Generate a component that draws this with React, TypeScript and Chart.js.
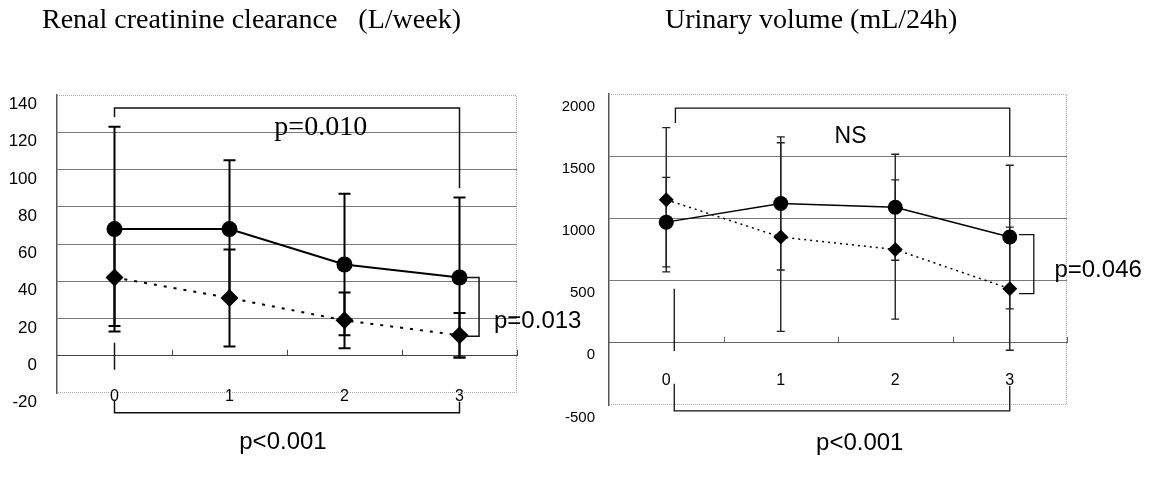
import React, { useEffect, useRef } from 'react';
import { Chart, registerables } from 'chart.js';

Chart.register(...registerables);

// ---------- data ----------
const timePoints = ['0', '1', '2', '3'];

// Renal creatinine clearance (L/week)
const crclSolid = [68, 68, 49, 42];
const crclSolidSD = [55, 37, 38, 43];
const crclDotted = [42, 31, 19, 11];
const crclDottedSD = [26, 26, 15, 12];

// Urinary volume (mL/24h)
const uvSolid = [970, 1120, 1090, 850];
const uvSolidSD = [360, 535, 426, 577];
const uvDotted = [1150, 850, 750, 435];
const uvDottedSD = [580, 758, 560, 495];

// significance brackets, in (category index, axis value)
const crclBrackets = [
  [[0, 128], [0, 133], [3, 133], [3, 90]],
  [[3.01, 42], [3.17, 42], [3.17, 10.5], [3.01, 10.5]],
  [[0, -23.6], [0, -30.6], [3, -30.6], [3, -24.7]],
  [[0, 7], [0, -7.5]],
];
const uvBrackets = [
  [[0.08, 1766], [0.08, 1887], [3, 1887], [3, 1500]],
  [[3.08, 870], [3.21, 870], [3.21, 395], [3.08, 395]],
  [[0.07, -330], [0.07, -548], [3, -548], [3, -347]],
  [[0.07, 435], [0.07, -65]],
];

const crclLabels = [
  { text: 'p=0.010', x: 1.39, y: 118.7, serif: true, size: 28, align: 'left' },
  { text: 'p=0.013', x: 3.3, y: 15, serif: false, size: 24, align: 'left' },
  { text: 'p<0.001', x: 1.465, y: -49.9, serif: false, size: 24, align: 'center' },
];
const uvLabels = [
  { text: 'NS', x: 1.61, y: 1605, serif: false, size: 23, align: 'center' },
  { text: 'p=0.046', x: 3.39, y: 532, serif: false, size: 24, align: 'left' },
  { text: 'p<0.001', x: 1.69, y: -863, serif: false, size: 24, align: 'center' },
];

// ---------- chart specs ----------
const crclSpec = {
  title: 'Renal creatinine clearance   (L/week)',
  titleX: 42,
  yMin: -20, yMax: 140, yStep: 20,
  yWidth: 57, yTickPad: 20, yLabelOffset: 9.5, yFont: 17,
  pad: { top: 95, right: 83, bottom: 88 },
  xPad: 31,
  solid: crclSolid, solidSD: crclSolidSD, dotted: crclDotted, dottedSD: crclDottedSD,
  brackets: crclBrackets, labels: crclLabels,
  lineW: 2, dotDash: [3, 7], circleR: 8, diamondR: 9,
  errW: 2, capHalf: 6, errColor: '#000',
  gridColor: '#7a7a7a', zeroColor: '#444', bracketW: 1.5,
};
const uvSpec = {
  title: 'Urinary volume (mL/24h)',
  titleX: 110,
  yMin: -500, yMax: 2000, yStep: 500,
  yWidth: 54, yTickPad: 14, yLabelOffset: 12.5, yFont: 15,
  pad: { top: 94, right: 88, bottom: 76 },
  xPad: 28,
  solid: uvSolid, solidSD: uvSolidSD, dotted: uvDotted, dottedSD: uvDottedSD,
  brackets: uvBrackets, labels: uvLabels,
  lineW: 1.5, dotDash: [2, 4], circleR: 7.5, diamondR: 7.5,
  errW: 1.4, capHalf: 4, errColor: '#222',
  gridColor: '#7a7a7a', zeroColor: '#666', bracketW: 1.3,
};

function makeOverlay(spec: any) {
  return {
    id: 'overlay',
    beforeDatasetsDraw(chart: any) {
      const ctx = chart.ctx;
      const xs = chart.scales.x;
      const ys = chart.scales.y;
      const groups = [
        [spec.solid, spec.solidSD],
        [spec.dotted, spec.dottedSD],
      ];
      ctx.save();
      ctx.strokeStyle = spec.errColor;
      ctx.lineWidth = spec.errW;
      groups.forEach(([vals, sds]: any) => {
        vals.forEach((v: number, i: number) => {
          const x = xs.getPixelForValue(i);
          const yTop = ys.getPixelForValue(v + sds[i]);
          const yBot = ys.getPixelForValue(v - sds[i]);
          ctx.beginPath();
          ctx.moveTo(x, yTop);
          ctx.lineTo(x, yBot);
          ctx.moveTo(x - spec.capHalf, yTop);
          ctx.lineTo(x + spec.capHalf, yTop);
          ctx.moveTo(x - spec.capHalf, yBot);
          ctx.lineTo(x + spec.capHalf, yBot);
          ctx.stroke();
        });
      });
      ctx.restore();
    },
    afterDraw(chart: any) {
      const ctx = chart.ctx;
      const xs = chart.scales.x;
      const ys = chart.scales.y;
      const a = chart.chartArea;
      ctx.save();
      // dotted frame (top, right, bottom)
      ctx.strokeStyle = '#a8a8a8';
      ctx.lineWidth = 1;
      ctx.setLineDash([1, 1]);
      ctx.beginPath();
      ctx.moveTo(a.left, a.top + 0.5);
      ctx.lineTo(a.right - 0.5, a.top + 0.5);
      ctx.lineTo(a.right - 0.5, a.bottom - 0.5);
      ctx.lineTo(a.left, a.bottom - 0.5);
      ctx.stroke();
      ctx.setLineDash([]);
      // small ticks on the zero axis between categories
      const y0 = ys.getPixelForValue(0);
      ctx.strokeStyle = spec.zeroColor;
      ctx.lineWidth = 1;
      ctx.beginPath();
      for (let i = 0; i < timePoints.length; i++) {
        const x = Math.round(xs.getPixelForValue(i + 0.5)) + 0.5;
        ctx.moveTo(x, y0);
        ctx.lineTo(x, y0 - 6);
      }
      ctx.stroke();
      // brackets
      ctx.strokeStyle = '#111';
      ctx.lineWidth = spec.bracketW;
      spec.brackets.forEach((pts: number[][]) => {
        ctx.beginPath();
        pts.forEach((p, k) => {
          const x = xs.getPixelForValue(p[0]);
          const y = ys.getPixelForValue(p[1]);
          if (k === 0) ctx.moveTo(x, y);
          else ctx.lineTo(x, y);
        });
        ctx.stroke();
      });
      // labels
      ctx.fillStyle = '#000';
      ctx.textBaseline = 'alphabetic';
      spec.labels.forEach((l: any) => {
        ctx.font = `${l.size}px ${l.serif ? '"Liberation Serif"' : '"Liberation Sans"'}`;
        ctx.textAlign = l.align;
        ctx.fillText(l.text, xs.getPixelForValue(l.x), ys.getPixelForValue(l.y));
      });
      // title
      ctx.font = '28px "Liberation Serif"';
      ctx.textAlign = 'left';
      ctx.fillText(spec.title, spec.titleX, 28);
      ctx.restore();
    },
  };
}

function buildConfig(spec: any): any {
  return {
    type: 'line',
    data: {
      labels: timePoints,
      datasets: [
        {
          data: spec.solid,
          borderColor: '#000',
          backgroundColor: '#000',
          borderWidth: spec.lineW,
          pointStyle: 'circle',
          pointRadius: spec.circleR,
          pointBackgroundColor: '#000',
          pointBorderColor: '#000',
          pointBorderWidth: 0,
          tension: 0,
          fill: false,
        },
        {
          data: spec.dotted,
          borderColor: '#000',
          backgroundColor: '#000',
          borderWidth: spec.lineW,
          borderDash: spec.dotDash,
          pointStyle: 'rectRot',
          pointRadius: spec.diamondR,
          pointBackgroundColor: '#000',
          pointBorderColor: '#000',
          pointBorderWidth: 0,
          tension: 0,
          fill: false,
        },
      ],
    },
    options: {
      animation: false,
      responsive: false,
      maintainAspectRatio: false,
      layout: { padding: { left: 0, top: spec.pad.top, right: spec.pad.right, bottom: spec.pad.bottom } },
      plugins: { legend: { display: false }, tooltip: { enabled: false }, title: { display: false } },
      scales: {
        x: {
          type: 'category',
          offset: true,
          position: { y: 0 },
          grid: { display: false, drawTicks: false },
          border: { display: true, color: spec.zeroColor, width: 1 },
          ticks: {
            padding: spec.xPad,
            color: '#000',
            font: { family: '"Liberation Sans"', size: 16 },
            maxRotation: 0,
            autoSkip: false,
          },
        },
        y: {
          type: 'linear',
          min: spec.yMin,
          max: spec.yMax,
          afterFit: (s: any) => {
            s.width = spec.yWidth;
          },
          ticks: {
            stepSize: spec.yStep,
            padding: spec.yTickPad,
            labelOffset: spec.yLabelOffset,
            color: '#000',
            font: { family: '"Liberation Sans"', size: spec.yFont },
            callback: (v: any) => String(v),
          },
          grid: {
            drawTicks: false,
            lineWidth: 1,
            color: (c: any) =>
              c.tick && (c.tick.value === spec.yMax || c.tick.value === spec.yMin)
                ? 'rgba(0,0,0,0)'
                : spec.gridColor,
          },
          border: { display: true, color: '#555', width: 1.5 },
        },
      },
    },
    plugins: [makeOverlay(spec)],
  };
}

function Panel({ spec, left }: { spec: any; left: number }) {
  const ref = useRef<HTMLCanvasElement>(null);
  useEffect(() => {
    const chart = new Chart(ref.current as HTMLCanvasElement, buildConfig(spec));
    return () => chart.destroy();
  }, [spec]);
  return (
    <canvas
      ref={ref}
      width={600}
      height={481}
      style={{ position: 'absolute', left, top: 0, width: 600, height: 481 }}
    />
  );
}

export default function App() {
  return (
    <div
      style={{
        position: 'fixed',
        left: 0,
        top: 0,
        width: 1155,
        height: 481,
        background: '#fff',
        overflow: 'hidden',
      }}
    >
      <Panel spec={crclSpec} left={0} />
      <Panel spec={uvSpec} left={555} />
    </div>
  );
}
